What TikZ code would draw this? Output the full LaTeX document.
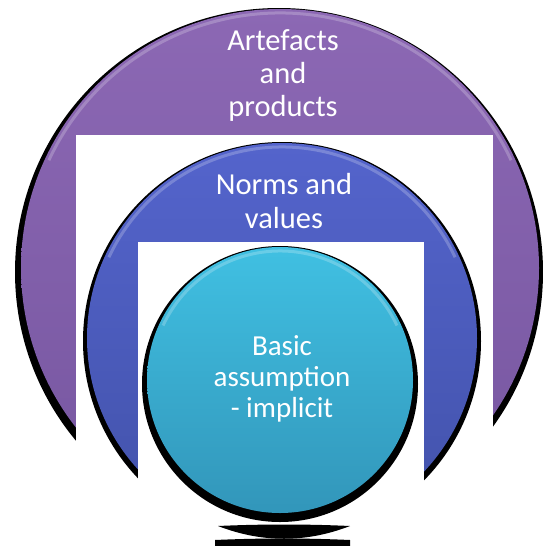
\documentclass[tikz,border=0pt]{standalone}
\usepackage{fontspec}
\setmainfont{Carlito}
\definecolor{purpTop}{RGB}{140,104,180}
\definecolor{purpBot}{RGB}{118,86,160}
\definecolor{blueTop}{RGB}{84,100,204}
\definecolor{blueBot}{RGB}{66,82,170}
\definecolor{cyanTop}{RGB}{64,192,226}
\definecolor{cyanBot}{RGB}{50,150,186}
\tikzset{
  lbl/.style={text=white, anchor=base, inner sep=0pt, font=\fontsize{30.5}{33}\selectfont},
  lblin/.style={lbl, font=\fontsize{29}{32}\selectfont},
  gap/.style={fill=white, draw=none},
  rim/.style={draw=white, opacity=0.22, line width=3pt},
}
\begin{document}
\begin{tikzpicture}[x=1pt,y=-1pt]
\useasboundingbox (0,0) rectangle (542,546);
\fill[white] (0,0) rectangle (542,546);
% outer ring
\fill[black] (279,272) circle[radius=264];
\shade[top color=purpTop, bottom color=purpBot] (280,268) circle[radius=259];
\draw[rim] (280,268) ++(205:255) arc[start angle=205, end angle=335, radius=255];
\fill[gap] (76,135) rectangle (493,546);
% middle ring
\fill[black] (282,341) circle[radius=199];
\shade[top color=blueTop, bottom color=blueBot] (282,338) circle[radius=195];
\draw[rim] (282,338) ++(205:191) arc[start angle=205, end angle=335, radius=191];
\fill[gap] (138,242) rectangle (424,546);
% inner circle
\fill[black] (280,384) circle[radius=138];
\shade[top color=cyanTop, bottom color=cyanBot] (280,380) circle[radius=133];
\draw[rim] (280,380) ++(205:129) arc[start angle=205, end angle=335, radius=129];
% reflections below
\fill[black] (218,526) .. controls (262,524) and (306,524) .. (350,526)
  .. controls (306,543) and (262,543) .. cycle;
\fill[black] (215,540) .. controls (260,538) and (305,538) .. (350,540)
  -- (350,546) -- (215,546) -- cycle;
% labels
\node[lbl] (a1) at (283,50) {Artefacts};
\node[lbl] (a2) at (283,83) {and};
\node[lbl] (a3) at (283,116) {products};
\node[lbl] (n1) at (284,194) {Norms and};
\node[lbl] (n2) at (284,228) {values};
\node[lblin] (b1) at (282,355) {Basic};
\node[lblin] (b2) at (282,386) {assumption};
\node[lblin] (b3) at (282,417) {- implicit};
\end{tikzpicture}
\end{document}
